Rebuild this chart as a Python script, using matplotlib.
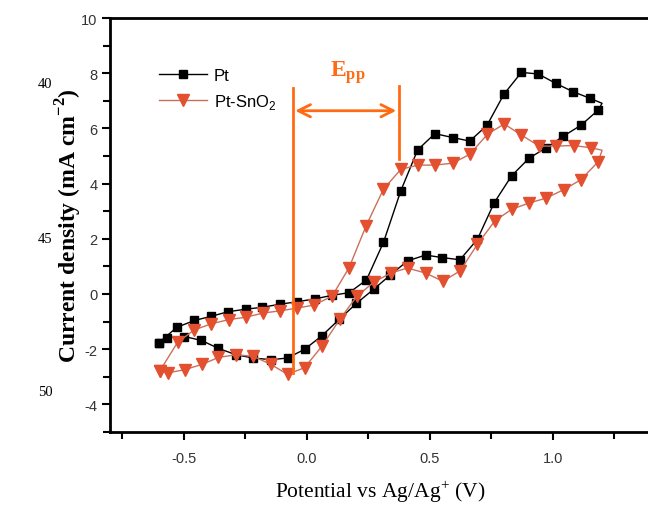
import matplotlib
matplotlib.use("Agg")
import matplotlib.pyplot as plt
import numpy as np

plt.rcParams["axes.unicode_minus"] = False
plt.rcParams["mathtext.fontset"] = "custom"
plt.rcParams["mathtext.rm"] = "Liberation Serif"
plt.rcParams["mathtext.bf"] = "Liberation Serif:bold"
plt.rcParams["mathtext.sf"] = "Liberation Sans"

# Pt, CV loop starting at the left vertex, anodic sweep first
pt_E = [-0.600, -0.529, -0.457, -0.389, -0.319, -0.247, -0.180, -0.109, -0.039, 0.032,
        0.102, 0.173, 0.243, 0.312, 0.383, 0.451, 0.521, 0.593, 0.663, 0.733,
        0.802, 0.873, 0.942, 1.013, 1.083, 1.152, 1.201,
        1.186, 1.116, 1.044, 0.974, 0.904, 0.833, 0.762, 0.694, 0.623, 0.551,
        0.483, 0.410, 0.339, 0.272, 0.202, 0.132, 0.062, -0.008, -0.078, -0.146,
        -0.217, -0.288, -0.359, -0.429, -0.498, -0.570, -0.600]
pt_j = [-1.76, -1.21, -0.96, -0.81, -0.64, -0.55, -0.48, -0.37, -0.28, -0.18,
        -0.05, 0.05, 0.51, 1.87, 3.75, 5.22, 5.81, 5.67, 5.54, 6.11,
        7.24, 8.03, 7.97, 7.63, 7.33, 7.09, 6.91,
        6.67, 6.12, 5.72, 5.30, 4.92, 4.28, 3.30, 1.98, 1.24, 1.32,
        1.41, 1.20, 0.68, 0.17, -0.34, -0.92, -1.51, -2.00, -2.32, -2.38,
        -2.32, -2.20, -1.97, -1.68, -1.54, -1.58, -1.76]
pt_turn = 26  # right vertex, drawn without a marker

# Pt-SnO2
sn_E = [-0.597, -0.525, -0.457, -0.388, -0.318, -0.247, -0.177, -0.109, -0.039, 0.030,
        0.103, 0.172, 0.241, 0.312, 0.383, 0.453, 0.521, 0.593, 0.663, 0.735,
        0.803, 0.873, 0.945, 1.013, 1.085, 1.155, 1.201,
        1.186, 1.115, 1.045, 0.972, 0.902, 0.834, 0.766, 0.694, 0.624, 0.554,
        0.483, 0.410, 0.342, 0.273, 0.204, 0.135, 0.062, -0.009, -0.078, -0.146,
        -0.217, -0.288, -0.359, -0.426, -0.495, -0.566, -0.597]
sn_j = [-2.78, -1.75, -1.30, -1.08, -0.93, -0.84, -0.69, -0.61, -0.51, -0.40,
        -0.08, 0.95, 2.46, 3.80, 4.52, 4.67, 4.67, 4.74, 5.06, 5.79,
        6.16, 5.76, 5.36, 5.36, 5.38, 5.30, 5.21,
        4.80, 4.14, 3.78, 3.47, 3.29, 3.07, 2.66, 1.80, 0.84, 0.46,
        0.76, 0.94, 0.76, 0.43, -0.08, -0.91, -1.89, -2.67, -2.91, -2.55,
        -2.26, -2.20, -2.30, -2.55, -2.74, -2.86, -2.78]
sn_turn = 26

# E_pp annotation (data units)
epp_left, epp_right = -0.057, 0.374
epp_left_y = (-2.85, 7.45)
epp_right_y = (4.90, 7.52)
epp_arrow_y = 6.64

ORANGE = "#FF6A13"
RED_MK = "#E2502F"
RED_LN = "#C9705C"

fig = plt.figure(figsize=(6.48, 5.06), dpi=100)
ax = fig.add_axes([110/648, 73/506, 541/648, 414/506])

ax.plot(pt_E, pt_j, color="black", lw=1.0, marker="s", ms=6, mfc="black", mec="black",
        markevery=[i for i in range(len(pt_E)) if i != pt_turn], label="Pt", zorder=3)
ax.plot(sn_E, sn_j, color=RED_LN, lw=1.0, marker="v", ms=8, mfc=RED_MK, mec=RED_MK,
        markevery=[i for i in range(len(sn_E)) if i != sn_turn],
        label=r"Pt-SnO$_{\mathsf{2}}$", zorder=4)

ax.plot([epp_left, epp_left], epp_left_y, color=ORANGE, lw=2, zorder=5)
ax.plot([epp_right, epp_right], epp_right_y, color=ORANGE, lw=2, zorder=5)
ax.annotate("", xy=(epp_right - 0.01, epp_arrow_y), xytext=(epp_left + 0.01, epp_arrow_y),
            arrowprops=dict(arrowstyle="<->", color=ORANGE, lw=2, mutation_scale=22,
                            shrinkA=0, shrinkB=0), zorder=5)
ax.text((epp_left + epp_right) / 2 + 0.01, 8.05, r"$\mathbf{E_{pp}}$", color=ORANGE,
        fontsize=17, ha="center", va="center")

ax.set_xlim(-0.8, 1.4)
ax.set_ylim(-5, 10)
ax.set_xticks([-0.5, 0.0, 0.5, 1.0])
ax.set_xticks([-0.75, -0.25, 0.25, 0.75, 1.25], minor=True)
ax.set_yticks([-4, -2, 0, 2, 4, 6, 8, 10])
ax.set_yticks([-5, -3, -1, 1, 3, 5, 7, 9], minor=True)
ax.tick_params(which="both", direction="out", width=1.5, colors="black",
               labelcolor="#333333", labelsize=10.5, top=False, right=False)
ax.tick_params(which="major", length=6, pad=8)
ax.tick_params(which="minor", length=5)
ax.tick_params(axis="y", pad=3)
for lab in ax.get_xticklabels() + ax.get_yticklabels():
    lab.set_fontfamily("Liberation Sans")
for s in ax.spines.values():
    s.set_linewidth(2)

ax.set_xlabel(r"Potential vs Ag/Ag$^{+}$ (V)", fontfamily="Liberation Serif",
              fontsize=15.5, labelpad=9)
ax.set_ylabel(r"Current density (mA cm$^{\mathbf{-2}}$)", fontfamily="Liberation Serif",
              fontsize=17, fontweight="bold", labelpad=-2)

leg = ax.legend(loc="upper left", bbox_to_anchor=(152/648, 1 - 62/506),
                bbox_transform=fig.transFigure, frameon=False, handlelength=2.9,
                handletextpad=0.4, labelspacing=0.55, borderaxespad=0,
                prop={"family": "Liberation Sans", "size": 12})

for y, t in [(84, "40"), (240, "45"), (393, "50")]:
    fig.text(45/648, 1 - y/506, t, fontfamily="Liberation Serif", fontsize=10.5,
             ha="center", va="center")

fig.savefig("out.png", dpi=100)
